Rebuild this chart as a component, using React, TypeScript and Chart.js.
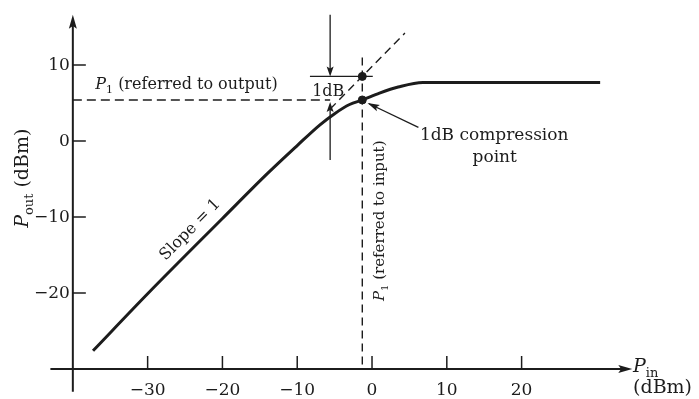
import React, { useEffect, useRef } from "react";
import { Chart, registerables } from "chart.js";
Chart.register(...registerables);

// Measured transfer curve (dBm)
const inputPower = [-37.3, -30, -20, -14, -10, -7, -5, -3, -1.3, 1, 3.5, 6.8, 30.5];
const outputPower = [-27.6, -20.1, -10.2, -4.3, -0.6, 2.1, 3.6, 4.8, 5.4, 6.3, 7.1, 7.7, 7.7];
// Extrapolated slope-1 line (dashed)
const extrapolationIn = [-5.6, 4.4];
const extrapolationOut = [4.2, 14.2];
// 1 dB compression point
const p1Input = -1.3;
const p1Output = 5.4;
const extrapolatedAtP1 = 8.5;
const markerIn = -5.6;
const p1InputLineTop = 11;
// Axes
const xTicks = [-30, -20, -10, 0, 10, 20];
const xTickLabels = ["−30", "−20", "−10", "0", "10", "20"];
const yTicks = [-20, -10, 0, 10];
const yTickLabels = ["−20", "−10", "0", "10"];
const xRange = [-43, 35];
const yRange = [-33, 17];
const axisOrigin = [-40, -30];
const xAxisEnd = 34.8;
const yAxisEnd = 16.6;

const INK = "#1c1c1c";
const SERIF = "'DejaVu Serif', 'Liberation Serif', serif";

type Part = { t: string; italic?: boolean; sub?: boolean; size: number };

function richWidth(ctx: CanvasRenderingContext2D, parts: Part[]) {
  let w = 0;
  for (const p of parts) {
    ctx.font = `${p.italic ? "italic " : ""}${p.sub ? Math.round(p.size * 0.68) : p.size}px ${SERIF}`;
    w += ctx.measureText(p.t).width;
  }
  return w;
}

function drawRich(ctx: CanvasRenderingContext2D, parts: Part[], x: number, y: number) {
  let cx = x;
  ctx.textAlign = "left";
  ctx.textBaseline = "alphabetic";
  for (const p of parts) {
    const s = p.sub ? Math.round(p.size * 0.68) : p.size;
    ctx.font = `${p.italic ? "italic " : ""}${s}px ${SERIF}`;
    ctx.fillText(p.t, cx, y + (p.sub ? p.size * 0.28 : 0));
    cx += ctx.measureText(p.t).width;
  }
}

function arrowHead(ctx: CanvasRenderingContext2D, fx: number, fy: number, tx: number, ty: number, len: number, half: number) {
  const a = Math.atan2(ty - fy, tx - fx);
  ctx.beginPath();
  ctx.moveTo(tx, ty);
  ctx.lineTo(tx - len * Math.cos(a) + half * Math.sin(a), ty - len * Math.sin(a) - half * Math.cos(a));
  ctx.lineTo(tx - len * Math.cos(a) * 0.8, ty - len * Math.sin(a) * 0.8);
  ctx.lineTo(tx - len * Math.cos(a) - half * Math.sin(a), ty - len * Math.sin(a) + half * Math.cos(a));
  ctx.closePath();
  ctx.fill();
}

function seg(ctx: CanvasRenderingContext2D, x1: number, y1: number, x2: number, y2: number) {
  ctx.beginPath();
  ctx.moveTo(x1, y1);
  ctx.lineTo(x2, y2);
  ctx.stroke();
}

const overlay = {
  id: "overlay",
  afterDraw(chart: any) {
    const ctx: CanvasRenderingContext2D = chart.ctx;
    const xs = chart.scales.x;
    const ys = chart.scales.y;
    const X = (v: number) => xs.getPixelForValue(v);
    const Y = (v: number) => ys.getPixelForValue(v);
    ctx.save();
    ctx.strokeStyle = INK;
    ctx.fillStyle = INK;
    ctx.setLineDash([]);

    // axes
    const ox = X(axisOrigin[0]);
    const oy = Y(axisOrigin[1]);
    ctx.lineWidth = 2;
    seg(ctx, X(xRange[0]), oy, X(xAxisEnd) - 8, oy);
    arrowHead(ctx, X(xRange[0]), oy, X(xAxisEnd), oy, 14, 4);
    seg(ctx, ox, Y(yRange[0]), ox, Y(yAxisEnd) + 8);
    arrowHead(ctx, ox, Y(yRange[0]), ox, Y(yAxisEnd), 14, 4);

    // tick marks
    ctx.lineWidth = 1.5;
    xTicks.forEach((t) => seg(ctx, X(t), oy, X(t), oy - 13));
    yTicks.forEach((t) => seg(ctx, ox, Y(t), ox + 13, Y(t)));

    // tick labels
    ctx.font = `17px ${SERIF}`;
    ctx.textAlign = "center";
    ctx.textBaseline = "alphabetic";
    xTicks.forEach((t, i) => ctx.fillText(xTickLabels[i], X(t), oy + 26));
    ctx.textAlign = "right";
    ctx.textBaseline = "middle";
    yTicks.forEach((t, i) => ctx.fillText(yTickLabels[i], ox - 3, Y(t) + 1));

    // axis titles
    const yTitle: Part[] = [
      { t: "P", italic: true, size: 19 },
      { t: "out", sub: true, size: 19 },
      { t: " (dBm)", size: 19 },
    ];
    ctx.save();
    ctx.translate(X(-46.8) + 6, Y(-4.9));
    ctx.rotate(-Math.PI / 2);
    drawRich(ctx, yTitle, -richWidth(ctx, yTitle) / 2, 0);
    ctx.restore();
    drawRich(ctx, [{ t: "P", italic: true, size: 19 }, { t: "in", sub: true, size: 19 }], X(34.9), Y(-30.4));
    drawRich(ctx, [{ t: "(dBm)", size: 19 }], X(34.9), Y(-33.2));

    // 1dB marker arrows
    ctx.lineWidth = 1.3;
    seg(ctx, X(markerIn), Y(yAxisEnd), X(markerIn), Y(extrapolatedAtP1) - 6);
    arrowHead(ctx, X(markerIn), Y(yAxisEnd), X(markerIn), Y(extrapolatedAtP1), 10, 3.5);
    seg(ctx, X(markerIn), Y(-2.5), X(markerIn), Y(p1Output) + 8);
    arrowHead(ctx, X(markerIn), Y(-2.5), X(markerIn), Y(p1Output) + 2, 10, 3.5);
    seg(ctx, X(-8.3), Y(extrapolatedAtP1), X(0.1), Y(extrapolatedAtP1));

    // annotation arrow to compression point
    seg(ctx, X(6.2), Y(1.8), X(-0.4), Y(4.9));
    arrowHead(ctx, X(6.2), Y(1.8), X(-0.6), Y(5.0), 12, 3.5);

    // texts
    ctx.fillStyle = INK;
    drawRich(ctx, [{ t: "1dB", size: 16 }], X(-8.0), Y(5.9));
    drawRich(ctx, [{ t: "1dB compression", size: 17 }], X(6.4), Y(0.1));
    ctx.font = `17px ${SERIF}`;
    ctx.textAlign = "center";
    ctx.fillText("point", X(16.4), Y(-2.8));
    drawRich(
      ctx,
      [
        { t: "P", italic: true, size: 16 },
        { t: "1", sub: true, size: 16 },
        { t: " (referred to output)", size: 16 },
      ],
      X(-37.0),
      Y(6.85)
    );

    const inLabel: Part[] = [
      { t: "P", italic: true, size: 15 },
      { t: "1", sub: true, size: 15 },
      { t: " (referred to input)", size: 15 },
    ];
    ctx.save();
    ctx.translate(X(0.9) + 5, Y(-10.5));
    ctx.rotate(-Math.PI / 2);
    drawRich(ctx, inLabel, -richWidth(ctx, inLabel) / 2, 0);
    ctx.restore();

    ctx.save();
    const ang = Math.atan2(Y(1) - Y(0), X(1) - X(0));
    ctx.translate(X(-24.3), Y(-11.7));
    ctx.rotate(ang);
    ctx.font = `16px ${SERIF}`;
    ctx.textAlign = "center";
    ctx.textBaseline = "middle";
    ctx.fillText("Slope = 1", 0, 0);
    ctx.restore();

    ctx.restore();
  },
};

export default function App() {
  const ref = useRef<HTMLCanvasElement | null>(null);
  useEffect(() => {
    if (!ref.current) return;
    const chart = new Chart(ref.current, {
      type: "scatter",
      data: {
        datasets: [
          {
            data: inputPower.map((x, i) => ({ x, y: outputPower[i] })),
            showLine: true,
            borderColor: INK,
            borderWidth: 3,
            pointRadius: 0,
            cubicInterpolationMode: "monotone",
            clip: false,
          },
          {
            data: extrapolationIn.map((x, i) => ({ x, y: extrapolationOut[i] })),
            showLine: true,
            borderColor: INK,
            borderWidth: 1.4,
            borderDash: [8, 5],
            pointRadius: 0,
            clip: false,
          },
          {
            data: [
              { x: axisOrigin[0], y: p1Output },
              { x: markerIn, y: p1Output },
            ],
            showLine: true,
            borderColor: INK,
            borderWidth: 1.4,
            borderDash: [9, 5],
            pointRadius: 0,
            clip: false,
          },
          {
            data: [
              { x: p1Input, y: p1InputLineTop },
              { x: p1Input, y: axisOrigin[1] },
            ],
            showLine: true,
            borderColor: INK,
            borderWidth: 1.4,
            borderDash: [8, 5],
            pointRadius: 0,
            clip: false,
          },
          {
            data: [
              { x: p1Input, y: extrapolatedAtP1 },
              { x: p1Input, y: p1Output },
            ],
            showLine: false,
            pointRadius: 4,
            pointBackgroundColor: INK,
            pointBorderColor: INK,
            clip: false,
          },
        ],
      },
      options: {
        animation: false,
        responsive: true,
        maintainAspectRatio: false,
        layout: { padding: { left: 50.4, right: 65.2, top: 11.8, bottom: 7.2 } },
        plugins: { legend: { display: false }, tooltip: { enabled: false } },
        scales: {
          x: { type: "linear", min: xRange[0], max: xRange[1], display: false },
          y: { type: "linear", min: yRange[0], max: yRange[1], display: false },
        },
      },
      plugins: [overlay],
    } as any);
    return () => chart.destroy();
  }, []);
  return (
    <div style={{ position: "fixed", left: 0, top: 0, width: 699, height: 399, background: "#fff" }}>
      <canvas ref={ref} />
    </div>
  );
}
